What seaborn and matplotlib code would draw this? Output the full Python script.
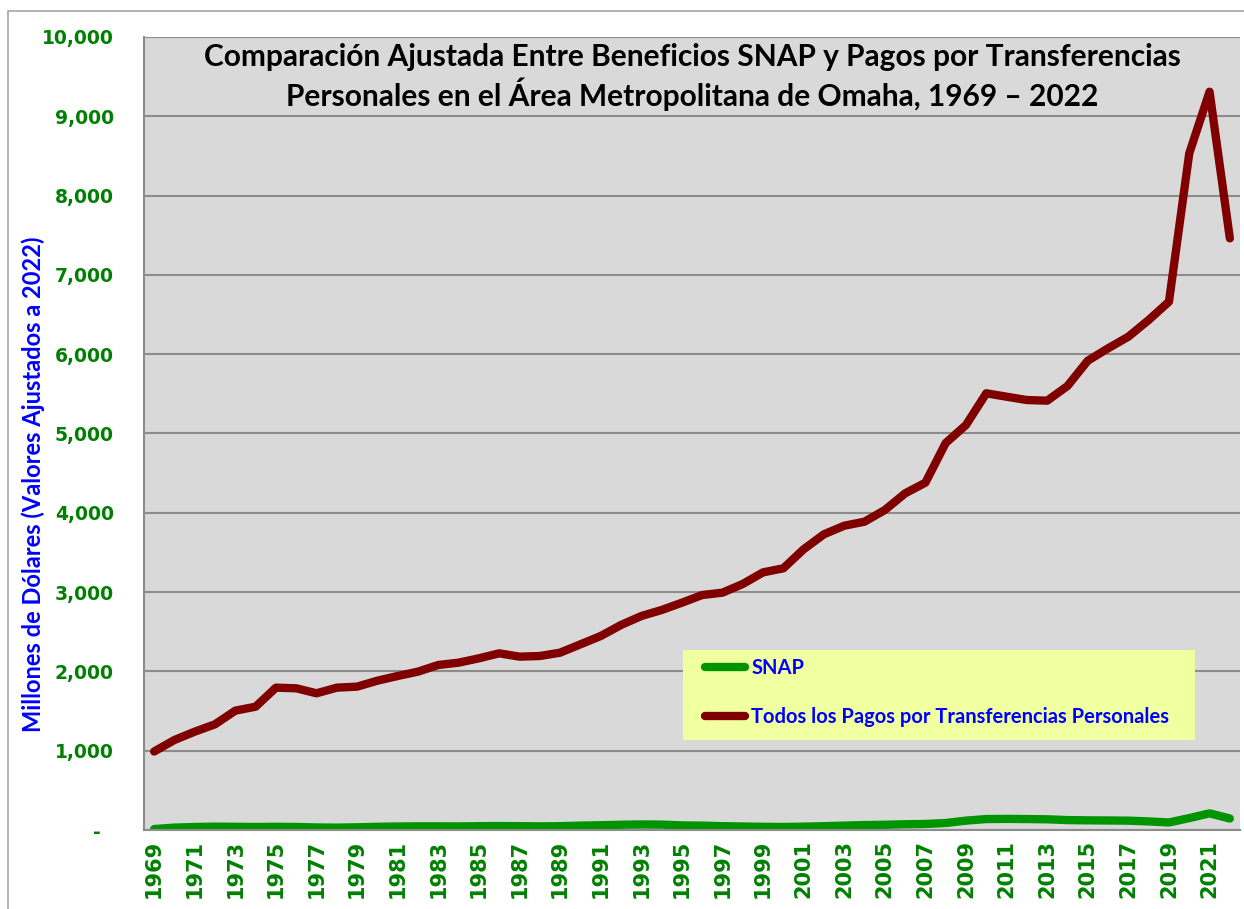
"""
SNAP vs. personal transfer payments, Omaha metro area (adjusted to 2022 dollars).
"""

import matplotlib.pyplot as plt
from matplotlib.patches import Rectangle
import seaborn as sns
import pandas as pd
import numpy as np

# Data (millions of dollars, 2022-adjusted)
years = list(range(1969, 2023))
snap = [12, 30, 38, 42, 40, 38, 40, 38, 32, 30,
        34, 40, 44, 46, 46, 45, 48, 50, 48, 46,
        48, 55, 60, 66, 70, 68, 58, 55, 48, 44,
        40, 38, 42, 48, 55, 62, 66, 72, 76, 88,
        118, 138, 140, 138, 135, 125, 122, 120, 118, 108,
        95, 150, 210, 145]
transfers = [990, 1135, 1240, 1333, 1505, 1555, 1795, 1787, 1724, 1795,
             1808, 1883, 1942, 1997, 2081, 2110, 2165, 2228, 2186, 2194,
             2236, 2341, 2446, 2585, 2698, 2774, 2866, 2963, 2993, 3102,
             3249, 3300, 3540, 3729, 3837, 3888, 4035, 4245, 4380, 4880,
             5107, 5507, 5464, 5422, 5414, 5599, 5918, 6074, 6221, 6431,
             6662, 8533, 9310, 7461]
series_names = ["SNAP", "Todos los Pagos por Transferencias Personales"]
series_colors = ["#009400", "#800000"]
y_ticks = list(range(0, 10001, 1000))
x_label_years = list(range(1969, 2022, 2))

title = ("Comparación Ajustada Entre Beneficios SNAP y Pagos por Transferencias\n"
         "Personales en el Área Metropolitana de Omaha, 1969 – 2022")
y_label = "Millones de Dólares (Valores Ajustados a 2022)"

sns.set_style("white")
plt.rcParams['font.family'] = ['DejaVu Sans']

df = pd.DataFrame({"year": years, series_names[0]: snap, series_names[1]: transfers})
df_long = df.melt(id_vars="year", var_name="serie", value_name="valor")

fig = plt.figure(figsize=(12.44, 9.09), dpi=100)
ax = fig.add_axes([144 / 1244, 1 - 830 / 909, 1096 / 1244, 793 / 909])
ax.set_facecolor("#D9D9D9")

sns.lineplot(data=df_long, x="year", y="valor", hue="serie",
             hue_order=series_names, palette=series_colors,
             linewidth=6, ax=ax, legend=False)
for line in ax.lines:
    line.set_solid_joinstyle("round")
    line.set_solid_capstyle("round")

# Axes limits and grid
ax.set_xlim(1968.5, 2022.5)
ax.set_ylim(0, 10000)
ax.set_yticks(y_ticks)
ax.set_yticklabels(["-  " if v == 0 else f"{v:,}" for v in y_ticks])
ax.yaxis.grid(True, color="#8C8C8C", linewidth=1.5)
ax.set_axisbelow(True)

ax.set_xticks(np.arange(1968.5, 2023, 1))
ax.set_xticklabels([])
ax.set_xticks(x_label_years, minor=True)
ax.set_xticklabels([str(y) for y in x_label_years], minor=True, rotation=90)
ax.tick_params(axis="x", which="major", length=5, width=1.2, color="#8C8C8C", direction="out")
ax.tick_params(axis="x", which="minor", length=0, pad=7)
ax.tick_params(axis="y", length=5.8, width=1.2, color="#8C8C8C", direction="out", pad=16)
for lbl in ax.get_yticklabels():
    lbl.set_color("#008000")
    lbl.set_fontweight("bold")
    lbl.set_fontsize(13.5)
for lbl in ax.get_xticklabels(minor=True):
    lbl.set_color("#008000")
    lbl.set_fontweight("bold")
    lbl.set_fontsize(15)

for side in ["top", "right"]:
    ax.spines[side].set_visible(False)
for side in ["left", "bottom"]:
    ax.spines[side].set_color("#8C8C8C")
    ax.spines[side].set_linewidth(1.5)

ax.set_xlabel("")
ax.set_ylabel("")

# Title inside the plot area
ax.text(0.5, 0.9495, title, transform=ax.transAxes, ha="center", va="center",
        fontsize=21.5, fontweight="bold", color="black", linespacing=1.25,
        family=["Lato", "DejaVu Sans"])

# Y axis title
fig.text(33 / 1244, 1 - 484 / 909, y_label, rotation=90, ha="center", va="center",
         fontsize=17, fontweight="bold", color="#0000FF", family=["Lato", "DejaVu Sans"])

# Legend box
ax.add_patch(Rectangle((539 / 1096, 90 / 793), 512 / 1096, 90 / 793,
                       transform=ax.transAxes, facecolor="#F0FFA0",
                       edgecolor="none", zorder=5))
leg = ax.legend(ax.lines, series_names, loc="upper left",
                bbox_to_anchor=(561 / 1096, 172 / 793), frameon=False,
                borderpad=0, borderaxespad=0, handlelength=2.0, handletextpad=0.3,
                labelspacing=1.45, prop={"family": ["Lato", "DejaVu Sans"],
                                         "weight": "bold", "size": 14.5})
leg.set_zorder(6)
for txt in leg.get_texts():
    txt.set_color("#0000FF")
for h in leg.get_lines():
    h.set_linewidth(6)
    h.set_solid_capstyle("round")

# Outer chart border
fig.patches.append(Rectangle((8 / 1244, -0.1), 1.2, 1.1 - 11 / 909,
                             transform=fig.transFigure, fill=False,
                             edgecolor="#A6A6A6", linewidth=1.2))

fig.savefig("out.png", dpi=100)
plt.close(fig)
